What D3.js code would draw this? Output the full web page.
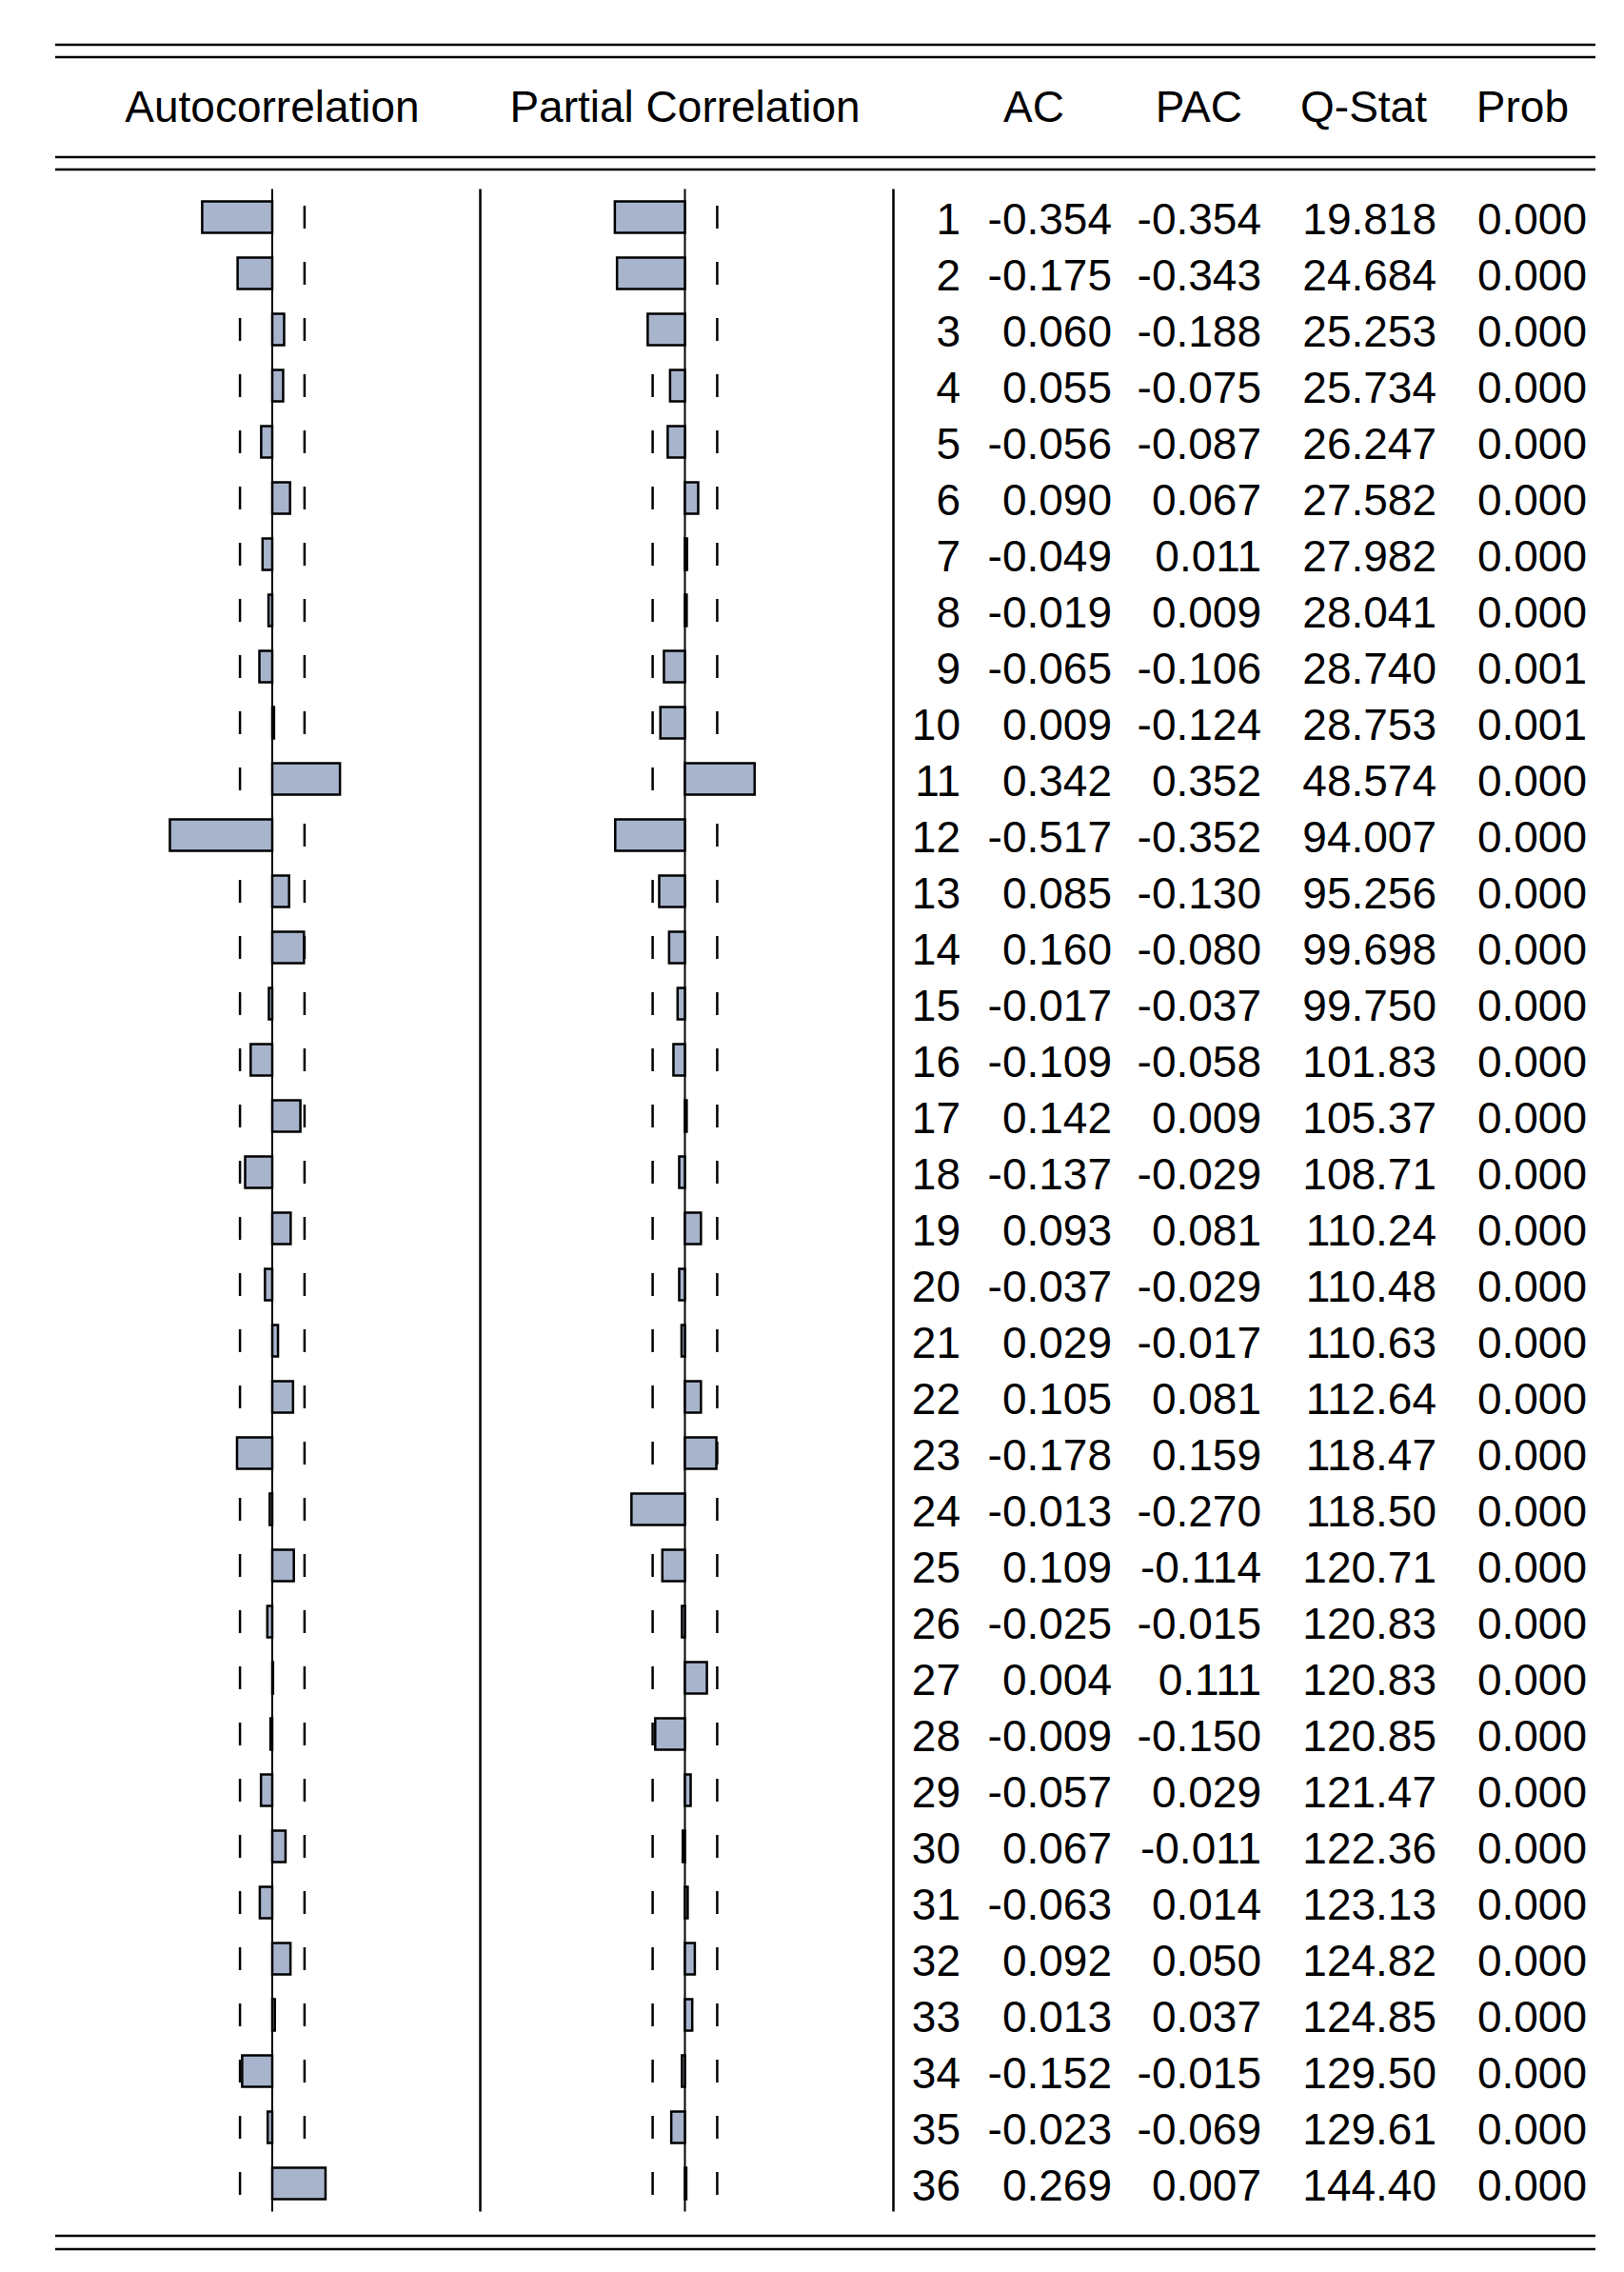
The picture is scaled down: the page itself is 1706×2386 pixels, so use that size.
<!DOCTYPE html>
<html>
<head>
<meta charset="utf-8">
<script src="https://cdn.jsdelivr.net/npm/d3@7"></script>
<style>
  body { margin: 0; background: #fff; }
  text { font-family: "Liberation Sans", Arial, sans-serif; fill: #000; }
</style>
</head>
<body>
<script>
// correlogram values
var lags = d3.range(1, 37)
var ac = [-0.354, -0.175, 0.060, 0.055, -0.056, 0.090, -0.049, -0.019, -0.065, 0.009,
          0.342, -0.517, 0.085, 0.160, -0.017, -0.109, 0.142, -0.137, 0.093, -0.037,
          0.029, 0.105, -0.178, -0.013, 0.109, -0.025, 0.004, -0.009, -0.057, 0.067,
          -0.063, 0.092, 0.013, -0.152, -0.023, 0.269]
var pac = [-0.354, -0.343, -0.188, -0.075, -0.087, 0.067, 0.011, 0.009, -0.106, -0.124,
           0.352, -0.352, -0.130, -0.080, -0.037, -0.058, 0.009, -0.029, 0.081, -0.029,
           -0.017, 0.081, 0.159, -0.270, -0.114, -0.015, 0.111, -0.150, 0.029, -0.011,
           0.014, 0.050, 0.037, -0.015, -0.069, 0.007]
var qstat = ["19.818", "24.684", "25.253", "25.734", "26.247", "27.582", "27.982", "28.041", "28.740", "28.753",
             "48.574", "94.007", "95.256", "99.698", "99.750", "101.83", "105.37", "108.71", "110.24", "110.48",
             "110.63", "112.64", "118.47", "118.50", "120.71", "120.83", "120.83", "120.85", "121.47", "122.36",
             "123.13", "124.82", "124.85", "129.50", "129.61", "144.40"]
var prob = ["0.000", "0.000", "0.000", "0.000", "0.000", "0.000", "0.000", "0.000", "0.001", "0.001",
            "0.000", "0.000", "0.000", "0.000", "0.000", "0.000", "0.000", "0.000", "0.000", "0.000",
            "0.000", "0.000", "0.000", "0.000", "0.000", "0.000", "0.000", "0.000", "0.000", "0.000",
            "0.000", "0.000", "0.000", "0.000", "0.000", "0.000"]
var bound = 0.163   // approx 2/sqrt(T)
var headers = ["AC", "PAC", "Q-Stat", "Prob"]

var width = 1706,
    height = 2386;

var svg = d3.select("body")
    .append("svg")
    .attr("width", width)
    .attr("height", height);

var y = d3.scaleBand()
    .domain(lags)
    .range([198.5, 2322.5]);

var xAC = d3.scaleLinear().domain([-1, 1]).range([286 - 208, 286 + 208]);
var xPAC = d3.scaleLinear().domain([-1, 1]).range([719.5 - 208, 719.5 + 208]);

var fmt = function(v){ return v.toFixed(3) }

// double rules
var rules = [47, 60, 165, 178, 2348, 2362]
svg.append("g")
    .selectAll("line")
    .data(rules)
    .enter().append("line")
    .attr("x1", 58).attr("x2", 1676)
    .attr("y1", d => d).attr("y2", d => d)
    .attr("stroke", "#000")
    .attr("stroke-width", 2.5);

// headers
svg.append("text").attr("x", xAC(0)).attr("y", 128)
    .attr("text-anchor", "middle").attr("font-size", 46).text("Autocorrelation");
svg.append("text").attr("x", xPAC(0)).attr("y", 128)
    .attr("text-anchor", "middle").attr("font-size", 46).text("Partial Correlation");

var headX = [1118, 1305, 1499, 1648]
svg.append("g")
    .selectAll("text")
    .data(headers)
    .enter().append("text")
    .attr("x", (d, i) => headX[i])
    .attr("y", 128)
    .attr("text-anchor", "end")
    .attr("font-size", 46)
    .text(d => d);

// panel separators
[504.5, 938.5].forEach(function(x){
    svg.append("line")
        .attr("x1", x).attr("x2", x)
        .attr("y1", y.range()[0]).attr("y2", y.range()[1])
        .attr("stroke", "#000").attr("stroke-width", 2.5);
});

function panel(vals, x){
    var g = svg.append("g");

    // zero line
    g.append("line")
        .attr("x1", x(0)).attr("x2", x(0))
        .attr("y1", y.range()[0]).attr("y2", y.range()[1])
        .attr("stroke", "#000").attr("stroke-width", 2);

    // confidence markers
    [-bound, bound].forEach(function(b){
        g.append("g")
            .selectAll("line")
            .data(lags)
            .enter().append("line")
            .attr("x1", x(b)).attr("x2", x(b))
            .attr("y1", d => y(d) + y.bandwidth()/2 - 12)
            .attr("y2", d => y(d) + y.bandwidth()/2 + 12)
            .attr("stroke", "#000").attr("stroke-width", 2.5);
    });

    g.append("g")
        .selectAll("rect")
        .data(vals)
        .enter().append("rect")
        .attr("x", d => Math.min(x(0), x(d)))
        .attr("width", d => Math.abs(x(d) - x(0)))
        .attr("y", (d, i) => y(lags[i]) + y.bandwidth()/2 - 16.5)
        .attr("height", 33)
        .attr("fill", "#a8b4cc")
        .attr("stroke", "#000")
        .attr("stroke-width", 2.5);
}

panel(ac, xAC)
panel(pac, xPAC)

// table columns
var cols = [
    {x: 1009, vals: lags.map(String)},
    {x: 1168, vals: ac.map(fmt)},
    {x: 1325, vals: pac.map(fmt)},
    {x: 1509, vals: qstat},
    {x: 1667, vals: prob}
]
cols.forEach(function(c){
    svg.append("g")
        .selectAll("text")
        .data(c.vals)
        .enter().append("text")
        .attr("x", c.x)
        .attr("y", (d, i) => y(lags[i]) + y.bandwidth()/2 + 17.5)
        .attr("text-anchor", "end")
        .attr("font-size", 46)
        .text(d => d);
});
</script>
</body>
</html>
